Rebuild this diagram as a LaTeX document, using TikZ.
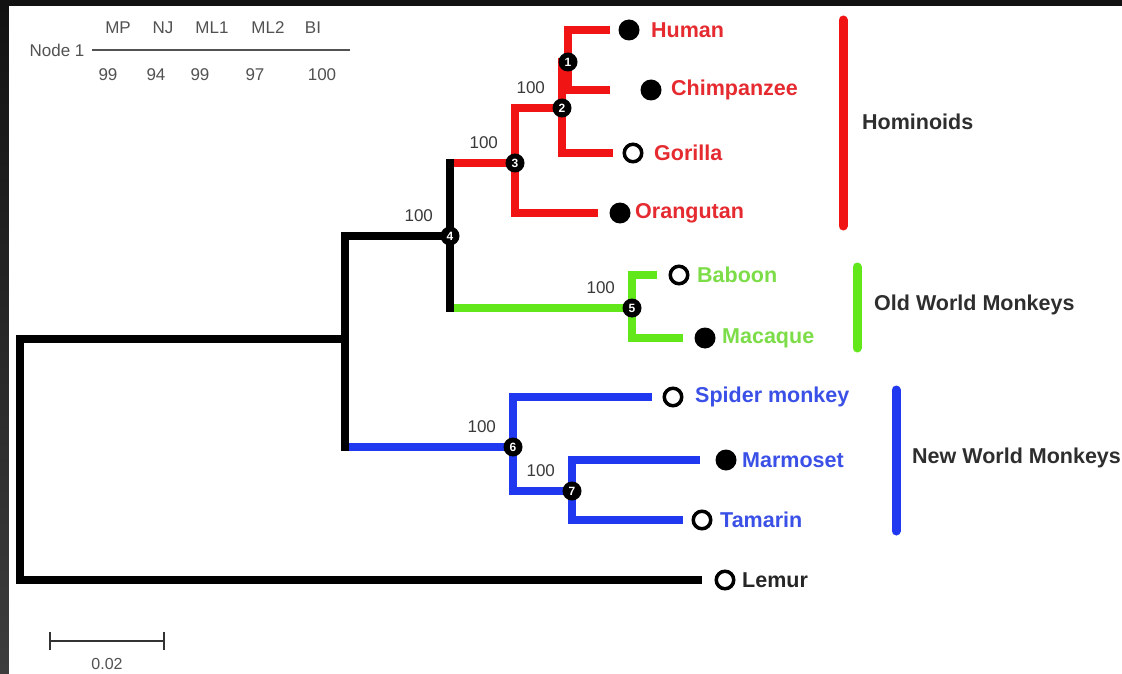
\documentclass[tikz,border=0pt]{standalone}
\usepackage{fontspec}
\setmainfont{Liberation Sans}
\usetikzlibrary{positioning, calc}
\definecolor{cred}{HTML}{F01414}
\definecolor{cgreen}{HTML}{62E81A}
\definecolor{cblue}{HTML}{2038F0}
\definecolor{tred}{HTML}{E52A30}
\definecolor{tgreen}{HTML}{7CDD48}
\definecolor{tblue}{HTML}{3A50E6}
\definecolor{cgrey}{HTML}{3A3A3A}
\tikzset{
  br/.style={draw=#1, line width=8pt, line cap=rect},
  br/.default=black,
  bar/.style={draw=#1, line width=9pt, line cap=round},
  num/.style={circle, fill=black, minimum size=19pt, inner sep=0pt, text=white, font=\bfseries\fontsize{12}{12}\selectfont},
  boot/.style={font=\fontsize{17}{17}\selectfont, text=cgrey, inner sep=0pt},
  dot/.style={circle, fill=black, minimum size=21pt, inner sep=0pt},
  ring/.style={circle, draw=black, fill=white, line width=3.5pt, minimum size=17.5pt, inner sep=0pt},
  taxon/.style={font=\bfseries\fontsize{21.5}{22}\selectfont, text=#1, anchor=west, inner sep=0pt},
  clade/.style={font=\bfseries\fontsize{21.5}{22}\selectfont, text=black!82, anchor=west, inner sep=0pt},
  tbl/.style={font=\fontsize{17}{17}\selectfont, text=black!68, inner sep=0pt},
}
\begin{document}
\begin{tikzpicture}[x=1pt, y=-1pt]
  \useasboundingbox (0,0) rectangle (1122,674);
  % dark frame round a white page
  \fill[black!93] (0,0) rectangle (1122,674);
  \shade[top color=black!93, bottom color=black!76] (0,0) rectangle (9,674);
  \fill[white] (9,6) rectangle (1122,674);
  % helper: leaf tip, its marker and its coloured name
  \newcommand{\leaf}[8]{% name, tip x, y, marker x, marker, label x, colour, text
    \coordinate (#1) at (#2,#3);
    \node[#5] (#1m) at (#4,#3) {};
    \node[taxon=#7] (#1l) at (#6,#3) {#8};}
  % junctions
  \coordinate (r) at (20,459);
  \coordinate (a) at (345,339);
  \coordinate (j1) at (568,62);
  \coordinate (j2) at (562,108);
  \coordinate (j3) at (515,163);
  \coordinate (j4) at (450,236);
  \coordinate (j5) at (632,308);
  \coordinate (j6) at (513,447);
  \coordinate (j7) at (572,491);
  % leaves
  \leaf{human}{606}{30}{629}{dot}{651}{tred}{Human}
  \leaf{chimp}{606}{90}{651}{dot}{671}{tred}{Chimpanzee}
  \leaf{gorilla}{609}{153}{633}{ring}{654}{tred}{Gorilla}
  \leaf{orang}{594}{213}{620}{dot}{635}{tred}{Orangutan}
  \leaf{baboon}{653}{275}{679}{ring}{697}{tgreen}{Baboon}
  \leaf{macaque}{679}{338}{705}{dot}{722}{tgreen}{Macaque}
  \leaf{spider}{648}{397}{673}{ring}{695}{tblue}{Spider monkey}
  \leaf{marmoset}{696}{460}{726}{dot}{742}{tblue}{Marmoset}
  \leaf{tamarin}{679}{520}{702}{ring}{720}{tblue}{Tamarin}
  \leaf{lemur}{698}{580}{725}{ring}{742}{black!85}{Lemur}
  % hominoids
  \draw[br=cred] (j1) |- (human);
  \draw[br=cred] (j1) |- (chimp);
  \draw[br=cred] (j2) |- (j1);
  \draw[br=cred] (j2) |- (gorilla);
  \draw[br=cred] (j3) |- (j2);
  \draw[br=cred] (j3) |- (orang);
  \draw[br=cred] (j4 |- j3) -- (j3);
  % old world monkeys
  \draw[br=cgreen] (j5) |- (baboon);
  \draw[br=cgreen] (j5) |- (macaque);
  \draw[br=cgreen] (j4 |- j5) -- (j5);
  % new world monkeys
  \draw[br=cblue] (j7) |- (marmoset);
  \draw[br=cblue] (j7) |- (tamarin);
  \draw[br=cblue] (j6) |- (spider);
  \draw[br=cblue] (j6) |- (j7);
  \draw[br=cblue] (a |- j6) -- (j6);
  % black backbone
  \draw[br] (j4) -- (j4 |- j3);
  \draw[br] (j4) -- (j4 |- j5);
  \draw[br] (a) |- (j4);
  \draw[br] (a) -- (a |- j6);
  \draw[br] (r) |- (a);
  \draw[br] (r) |- (lemur);
  % numbered nodes and their support
  \foreach \k in {1,...,7} \node[num] (n\k) at (j\k) {\k};
  \foreach \k in {2,...,7} \node[boot, above left=7pt and 10pt of n\k] (b\k) {100};
  % clade bars
  \draw[bar=cred] (843,20) -- (843,226);
  \draw[bar=cgreen] (857,267) -- (857,348);
  \draw[bar=cblue] (896,390) -- (896,531);
  \node[clade] (hom) at (862,122) {Hominoids};
  \node[clade] (owm) at (874,305) {Old World Monkeys};
  \node[clade] (nwm) at (912,458) {New World Monkeys};
  % support table for node 1
  \node[tbl] (node1) at (57,50) {Node 1};
  \draw[black!68, line width=2pt] (92,50) -- (350,50);
  \foreach \h/\v/\x/\y in {MP/99/118/108, NJ/94/163/156, ML1/99/212/200, ML2/97/268/255, BI/100/313/322} {
    \node[tbl] (h\h) at (\x,28) {\h};
    \node[tbl] (v\h) at (\y,75) {\v};
  }
  % scale bar
  \coordinate (s0) at (50,641);
  \coordinate (s1) at (164,641);
  \draw[black!80, line width=2.5pt] (s0) -- (s1);
  \draw[black!80, line width=2pt] ($(s0)+(0,-9)$) -- ($(s0)+(0,9)$) ($(s1)+(0,-9)$) -- ($(s1)+(0,9)$);
  \node[tbl, font=\fontsize{16}{16}\selectfont] (scale) at (107,664) {0.02};
\end{tikzpicture}
\end{document}
